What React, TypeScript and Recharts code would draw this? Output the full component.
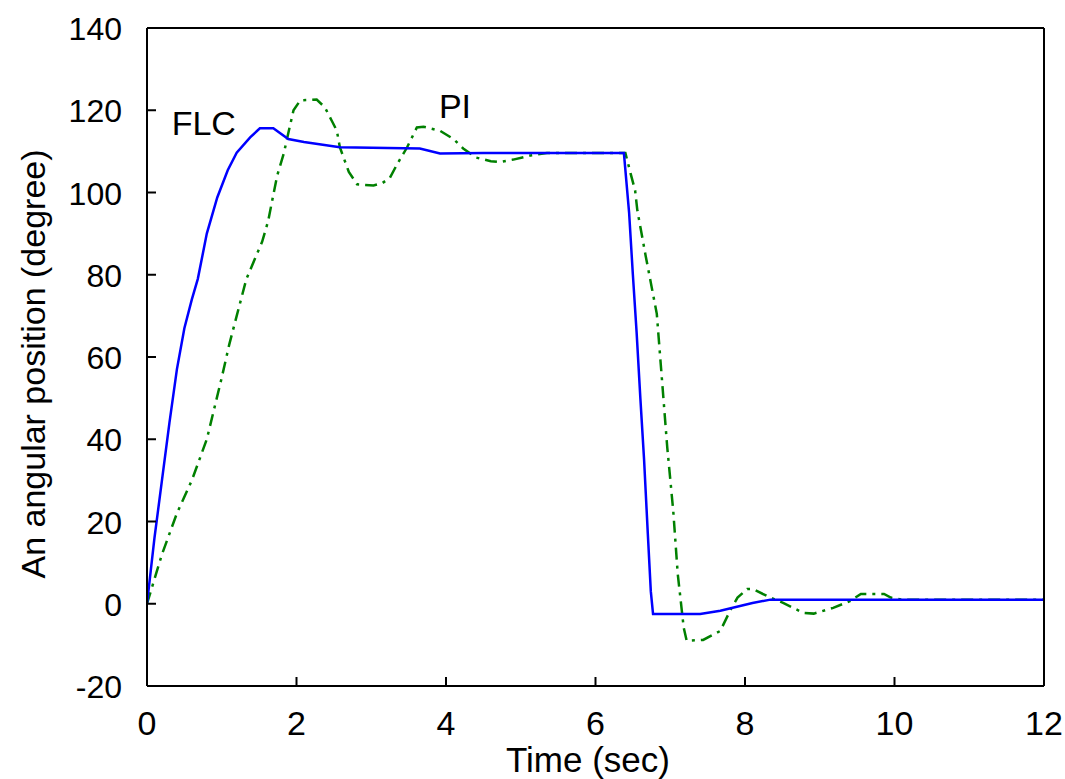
import React from 'react';
import { LineChart, Line, XAxis, YAxis, ReferenceDot } from 'recharts';

// FLC response (blue)
const flcTime = [0, 0.05, 0.1, 0.2, 0.3, 0.4, 0.5, 0.6, 0.68, 0.8, 0.94, 1.08, 1.2, 1.38, 1.51, 1.69, 1.89, 2.1, 2.58, 3.65, 3.92, 4.5, 6.38, 6.45, 6.5, 6.55, 6.6, 6.65, 6.7, 6.74, 6.77, 7.4, 7.67, 8.1, 8.34, 12];
const flcValue = [0, 8, 16, 30, 44, 57, 67, 74, 79, 90, 98.8, 105.4, 109.7, 113.4, 115.6, 115.6, 113, 112.3, 111, 110.7, 109.5, 109.6, 109.6, 95, 80, 66, 50, 35, 17, 3, -2.5, -2.5, -1.7, 0.2, 1, 1];

// PI response (green)
const piTime = [0, 0.2, 0.4, 0.6, 0.8, 1.0, 1.1, 1.2, 1.33, 1.54, 1.62, 1.74, 1.83, 1.89, 1.96, 2.05, 2.27, 2.38, 2.47, 2.54, 2.58, 2.7, 2.81, 3.03, 3.15, 3.25, 3.35, 3.48, 3.61, 3.7, 3.92, 4.1, 4.23, 4.4, 4.6, 4.72, 4.9, 5.13, 5.35, 6.4, 6.47, 6.53, 6.56, 6.67, 6.82, 6.89, 6.96, 7.04, 7.1, 7.18, 7.22, 7.44, 7.67, 7.8, 7.9, 8.03, 8.1, 8.34, 8.51, 8.78, 8.92, 9.18, 9.41, 9.55, 9.86, 9.95, 10.1, 12];
const piValue = [0, 12, 22, 30, 40, 55, 63, 70, 79, 88, 93, 104, 109.5, 114.4, 120, 122.4, 122.6, 120.7, 117.5, 115, 111, 105, 102, 101.7, 102.3, 103.6, 107, 111, 115.8, 116, 115, 113, 110.7, 108.5, 107.6, 107.4, 108, 109, 109.6, 109.6, 104.6, 100.5, 95.6, 84.7, 70.5, 54.3, 38, 22.6, 7.3, -5.8, -9, -8.8, -6.6, -1.7, 1.5, 3.6, 3.6, 1.5, 0.2, -2.2, -2.4, -1, 0.7, 2.4, 2.4, 1.5, 1, 1];

const xTicks = [0, 2, 4, 6, 8, 10, 12];
const yTicks = [-20, 0, 20, 40, 60, 80, 100, 120, 140];

const flcData = flcTime.map((t, i) => ({ t, v: flcValue[i] }));
const piData = piTime.map((t, i) => ({ t, v: piValue[i] }));

const FONT = '"Liberation Sans", Arial, Helvetica, sans-serif';

const XTick = ({ x, y, payload }: any) => (
    <text x={x} y={y + 24} textAnchor="middle" fontSize={34} fontFamily={FONT} fill="#000">
        {payload.value}
    </text>
);

const YTick = ({ x, y, payload }: any) => (
    <text x={x} y={y + 12} textAnchor="end" fontSize={32} fontFamily={FONT} fill="#000">
        {payload.value}
    </text>
);

// top/right edges: tick marks only, no labels
const NoLabel = () => <g />;

const textLabel = (txt: string) => (props: any) => (
    <text x={props.cx} y={props.cy} textAnchor="middle" fontSize={34} fontFamily={FONT} fill="#000">
        {txt}
    </text>
);

const axisStroke = { stroke: '#000', strokeWidth: 2 };

export default function App() {
    return (
        <div style={{ position: 'absolute', left: 0, top: 0, background: '#fff' }}>
            <LineChart width={1065} height={779} margin={{ top: 27, right: 20, bottom: 0, left: 0 }}>
                {/* bottom / left axes with labels */}
                <XAxis
                    dataKey="t"
                    type="number"
                    domain={[0, 12]}
                    ticks={xTicks}
                    height={93}
                    tickSize={-9}
                    tickMargin={34}
                    tick={<XTick />}
                    axisLine={axisStroke}
                    tickLine={axisStroke}
                    allowDataOverflow
                    label={{
                        content: () => (
                            <text x={588} y={772} textAnchor="middle" fontSize={35} fontFamily={FONT} fill="#000">
                                Time (sec)
                            </text>
                        )
                    }}
                />
                <YAxis
                    type="number"
                    domain={[-20, 140]}
                    ticks={yTicks}
                    width={147}
                    tickSize={-9}
                    tickMargin={34}
                    tick={<YTick />}
                    axisLine={axisStroke}
                    tickLine={axisStroke}
                    allowDataOverflow
                    label={{
                        content: () => (
                            <text
                                x={45}
                                y={364}
                                textAnchor="middle"
                                fontSize={34}
                                fontFamily={FONT}
                                fill="#000"
                                transform="rotate(-90, 45, 364)"
                            >
                                An angular position (degree)
                            </text>
                        )
                    }}
                />
                {/* top / right box edges */}
                <XAxis
                    xAxisId="top"
                    orientation="top"
                    dataKey="t"
                    type="number"
                    domain={[0, 12]}
                    ticks={xTicks}
                    height={1}
                    tickSize={-9}
                    tick={<NoLabel />}
                    axisLine={axisStroke}
                    tickLine={axisStroke}
                />
                <YAxis
                    yAxisId="right"
                    orientation="right"
                    type="number"
                    domain={[-20, 140]}
                    ticks={yTicks}
                    width={1}
                    tickSize={-9}
                    tick={<NoLabel />}
                    axisLine={axisStroke}
                    tickLine={axisStroke}
                />

                <Line
                    data={piData}
                    dataKey="v"
                    type="linear"
                    stroke="#008000"
                    strokeWidth={2.5}
                    strokeDasharray="12 6 3 6"
                    dot={false}
                    isAnimationActive={false}
                />
                <Line
                    data={flcData}
                    dataKey="v"
                    type="linear"
                    stroke="#0000ff"
                    strokeWidth={2.5}
                    dot={false}
                    isAnimationActive={false}
                />

                <ReferenceDot x={0.76} y={114} r={0} shape={textLabel('FLC')} />
                <ReferenceDot x={4.12} y={118.2} r={0} shape={textLabel('PI')} />
            </LineChart>
        </div>
    );
}
